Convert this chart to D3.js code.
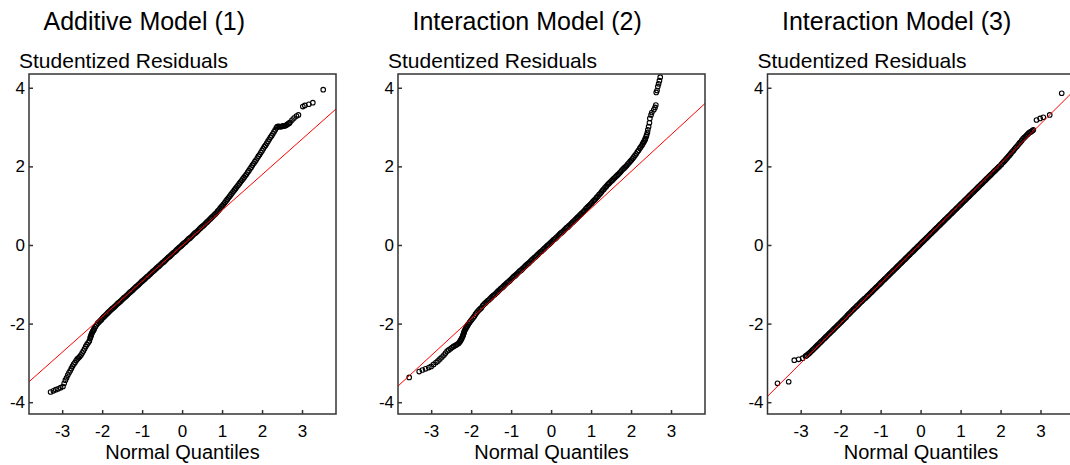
<!DOCTYPE html>
<html><head><meta charset="utf-8">
<script src="https://cdn.jsdelivr.net/npm/d3@7"></script>
<style>
body{margin:0;background:#fff;}
text{font-family:"Liberation Sans",Arial,sans-serif;fill:#000;}
</style>
</head><body>
<svg id="chart" width="1070" height="465"></svg>
<script>
// ---- labels & ticks ----
const panelTitles = ["Additive Model (1)", "Interaction Model (2)", "Interaction Model (3)"];
const yAxisTitle = "Studentized Residuals";
const xAxisTitle = "Normal Quantiles";
const xTicks = [-3, -2, -1, 0, 1, 2, 3];
const yTicks = [-4, -2, 0, 2, 4];
const xDomain = [-3.83, 3.85];
const yDomain = [-4.3, 4.35];

// ---- reference (QQ) lines: residual value at each end of xDomain ----
const refLine1 = [-3.48, 3.46];
const refLine2 = [-3.59, 3.60];
const refLine3 = [-3.85, 3.94];

// ---- Panel 1: Additive Model (1)  [normal quantile, studentized residual] ----
const points1 = [
[-3.29,-3.74],[-3.22,-3.71],[-3.16,-3.68],[-3.10,-3.66],[-3.04,-3.63],[-2.98,-3.60],[-2.95,-3.52],[-2.92,-3.44],[-2.89,-3.38],[-2.86,-3.31],
[-2.83,-3.25],[-2.80,-3.20],[-2.77,-3.14],[-2.74,-3.08],[-2.71,-3.03],[-2.68,-2.99],[-2.65,-2.94],[-2.62,-2.90],[-2.59,-2.87],[-2.56,-2.84],
[-2.53,-2.80],[-2.50,-2.75],[-2.47,-2.70],[-2.44,-2.64],[-2.41,-2.58],[-2.38,-2.53],[-2.35,-2.49],[-2.32,-2.44],[-2.30,-2.37],[-2.29,-2.34],
[-2.28,-2.31],[-2.27,-2.28],[-2.26,-2.25],[-2.24,-2.21],[-2.23,-2.19],[-2.21,-2.16],[-2.20,-2.13],[-2.17,-2.08],[-2.14,-2.03],[-2.11,-1.99],
[-2.08,-1.96],[-2.05,-1.93],[-2.02,-1.90],
[-1.99,-1.86],[-1.96,-1.83],[-1.93,-1.80],[-1.90,-1.77],[-1.87,-1.74],[-1.84,-1.71],[-1.81,-1.68],[-1.78,-1.65],[-1.75,-1.62],[-1.72,-1.60],
[-1.69,-1.57],[-1.66,-1.54],[-1.63,-1.51],[-1.60,-1.48],[-1.57,-1.46],[-1.54,-1.43],[-1.51,-1.40],[-1.48,-1.37],[-1.45,-1.34],[-1.42,-1.32],
[-1.39,-1.29],[-1.36,-1.26],[-1.33,-1.23],[-1.30,-1.20],[-1.27,-1.18],[-1.24,-1.15],[-1.21,-1.12],[-1.18,-1.09],[-1.15,-1.06],[-1.12,-1.04],
[-1.09,-1.01],[-1.06,-0.98],[-1.03,-0.95],[-1.00,-0.92],[-0.97,-0.90],[-0.94,-0.87],[-0.91,-0.84],[-0.88,-0.81],[-0.85,-0.79],[-0.82,-0.76],
[-0.79,-0.73],[-0.76,-0.70],[-0.73,-0.67],[-0.70,-0.65],[-0.67,-0.62],[-0.64,-0.59],[-0.61,-0.56],[-0.58,-0.54],[-0.55,-0.51],[-0.52,-0.48],
[-0.49,-0.45],[-0.46,-0.43],[-0.43,-0.40],[-0.40,-0.37],[-0.37,-0.34],[-0.34,-0.31],[-0.31,-0.29],[-0.28,-0.26],[-0.25,-0.23],[-0.22,-0.20],
[-0.19,-0.18],[-0.16,-0.15],[-0.13,-0.12],[-0.10,-0.09],[-0.07,-0.06],[-0.04,-0.04],[-0.01,-0.01],[0.02,0.02],[0.05,0.05],[0.08,0.07],
[0.11,0.10],[0.14,0.13],[0.17,0.16],[0.20,0.18],[0.23,0.21],[0.26,0.24],[0.29,0.27],[0.32,0.30],[0.35,0.32],[0.38,0.35],
[0.41,0.38],[0.44,0.41],[0.47,0.44],[0.50,0.47],[0.53,0.49],[0.56,0.52],[0.59,0.55],[0.62,0.58],[0.65,0.61],[0.68,0.64],
[0.71,0.67],[0.74,0.70],[0.77,0.73],[0.80,0.76],[0.83,0.79],[0.86,0.82],[0.89,0.86],[0.92,0.89],[0.95,0.93],[0.98,0.97],
[1.01,1.00],[1.04,1.04],[1.07,1.08],[1.10,1.12],[1.13,1.16],[1.16,1.20],[1.19,1.24],[1.22,1.28],[1.25,1.32],[1.28,1.36],
[1.31,1.40],[1.34,1.44],[1.37,1.48],[1.40,1.52],[1.43,1.56],[1.46,1.60],[1.49,1.64],[1.52,1.68],[1.55,1.72],[1.58,1.76],
[1.61,1.80],[1.64,1.85],[1.67,1.89],[1.70,1.94],[1.73,1.98],[1.76,2.03],[1.79,2.07],[1.82,2.12],[1.85,2.16],[1.88,2.21],
[1.91,2.26],[1.94,2.30],[1.97,2.35],[2.00,2.40],[2.03,2.45],[2.06,2.50],[2.09,2.54],[2.12,2.59],[2.15,2.64],[2.18,2.69],
[2.21,2.74],[2.24,2.78],[2.27,2.83],[2.30,2.88],[2.33,2.93],[2.36,2.98],[2.38,3.01],[2.41,3.02],[2.44,3.01],[2.47,3.01],
[2.50,3.02],[2.53,3.03],[2.56,3.03],[2.59,3.04],[2.62,3.06],[2.65,3.08],[2.68,3.10],[2.70,3.12],
[2.75,3.18],[2.80,3.23],[2.86,3.28],[2.91,3.31],[3.02,3.52],[3.07,3.55],[3.17,3.58],[3.27,3.62],[3.53,3.95]
];

// ---- Panel 2: Interaction Model (2) ----
const points2 = [
[-3.55,-3.37],[-3.30,-3.22],[-3.22,-3.18],[-3.14,-3.15],[-3.06,-3.12],[-3.00,-3.09],[-2.94,-3.04],[-2.88,-2.99],[-2.83,-2.95],[-2.78,-2.90],
[-2.73,-2.85],[-2.68,-2.80],[-2.64,-2.75],[-2.60,-2.70],[-2.56,-2.67],[-2.52,-2.64],[-2.48,-2.61],[-2.44,-2.58],[-2.40,-2.56],[-2.37,-2.54],
[-2.34,-2.52],[-2.31,-2.50],[-2.29,-2.47],[-2.27,-2.44],[-2.26,-2.42],[-2.24,-2.39],[-2.23,-2.36],[-2.21,-2.32],[-2.20,-2.29],[-2.19,-2.26],
[-2.18,-2.23],[-2.17,-2.20],[-2.16,-2.17],[-2.14,-2.14],[-2.13,-2.11],[-2.11,-2.08],[-2.10,-2.06],[-2.08,-2.03],[-2.07,-2.01],[-2.04,-1.97],
[-2.01,-1.93],[-1.98,-1.89],[-1.95,-1.85],[-1.92,-1.81],[-1.89,-1.76],[-1.86,-1.72],[-1.83,-1.68],[-1.80,-1.65],
[-1.77,-1.62],[-1.74,-1.59],[-1.71,-1.54],[-1.68,-1.51],[-1.65,-1.48],[-1.62,-1.45],[-1.59,-1.42],[-1.56,-1.40],[-1.53,-1.37],[-1.50,-1.34],
[-1.47,-1.31],[-1.44,-1.28],[-1.41,-1.26],[-1.38,-1.23],[-1.35,-1.20],[-1.32,-1.17],[-1.29,-1.14],[-1.26,-1.11],[-1.23,-1.09],[-1.20,-1.06],
[-1.17,-1.03],[-1.14,-1.00],[-1.11,-0.97],[-1.08,-0.95],[-1.05,-0.92],[-1.02,-0.89],[-0.99,-0.86],[-0.96,-0.83],[-0.93,-0.80],[-0.90,-0.78],
[-0.87,-0.75],[-0.84,-0.72],[-0.81,-0.69],[-0.78,-0.66],[-0.75,-0.64],[-0.72,-0.61],[-0.69,-0.58],[-0.66,-0.55],[-0.63,-0.52],[-0.60,-0.49],
[-0.57,-0.47],[-0.54,-0.44],[-0.51,-0.41],[-0.48,-0.38],[-0.45,-0.35],[-0.42,-0.32],[-0.39,-0.30],[-0.36,-0.27],[-0.33,-0.24],[-0.30,-0.21],
[-0.27,-0.18],[-0.24,-0.16],[-0.21,-0.13],[-0.18,-0.10],[-0.15,-0.07],[-0.12,-0.04],[-0.09,-0.01],[-0.06,0.01],[-0.03,0.04],[0.00,0.07],
[0.03,0.10],[0.06,0.13],[0.09,0.15],[0.12,0.18],[0.15,0.21],[0.18,0.24],[0.21,0.27],[0.24,0.30],[0.27,0.32],[0.30,0.35],
[0.33,0.38],[0.36,0.41],[0.39,0.44],[0.42,0.46],[0.45,0.49],[0.48,0.52],[0.51,0.55],[0.54,0.58],[0.57,0.61],[0.60,0.64],
[0.63,0.67],[0.66,0.70],[0.69,0.73],[0.72,0.76],[0.75,0.79],[0.78,0.82],[0.81,0.85],[0.84,0.88],[0.87,0.92],[0.90,0.95],
[0.93,0.98],[0.96,1.01],[0.99,1.04],[1.02,1.07],[1.05,1.11],[1.08,1.14],[1.11,1.17],[1.14,1.21],[1.17,1.24],[1.20,1.28],
[1.23,1.31],[1.26,1.35],[1.29,1.39],[1.32,1.42],[1.35,1.46],[1.38,1.49],[1.41,1.53],[1.44,1.56],[1.47,1.59],[1.50,1.62],
[1.53,1.65],[1.56,1.68],[1.59,1.71],[1.62,1.74],[1.65,1.77],[1.68,1.80],[1.71,1.83],[1.74,1.86],[1.77,1.90],[1.80,1.93],
[1.83,1.96],[1.86,1.99],[1.89,2.02],[1.92,2.06],[1.95,2.09],[1.98,2.13],[2.01,2.16],[2.04,2.20],[2.07,2.24],[2.10,2.28],
[2.13,2.32],[2.16,2.37],[2.19,2.41],[2.22,2.46],[2.24,2.49],
[2.27,2.53],[2.29,2.57],[2.31,2.61],[2.33,2.64],[2.35,2.68],[2.36,2.71],[2.38,2.76],[2.39,2.80],[2.41,2.86],[2.42,2.93],
[2.44,3.01],[2.46,3.11],[2.47,3.22],[2.50,3.31],[2.52,3.37],[2.57,3.44],[2.60,3.50],[2.62,3.56],
[2.63,3.88],[2.65,3.93],[2.67,4.03],[2.69,4.10],[2.71,4.18],[2.73,4.27]
];

// ---- Panel 3: Interaction Model (3) ----
const points3 = [
[-3.58,-3.52],[-3.30,-3.48],[-3.16,-2.93],[-3.05,-2.91],[-2.95,-2.88],[-2.88,-2.83],
[-2.85,-2.81],[-2.82,-2.78],[-2.79,-2.76],[-2.76,-2.73],[-2.73,-2.70],[-2.70,-2.67],[-2.67,-2.64],[-2.64,-2.61],[-2.61,-2.58],[-2.58,-2.55],
[-2.55,-2.52],[-2.52,-2.49],[-2.49,-2.46],[-2.46,-2.43],[-2.43,-2.40],[-2.40,-2.37],[-2.37,-2.34],[-2.34,-2.31],[-2.31,-2.28],[-2.28,-2.25],
[-2.25,-2.22],[-2.22,-2.19],[-2.19,-2.16],[-2.16,-2.13],[-2.13,-2.10],[-2.10,-2.07],[-2.07,-2.04],[-2.04,-2.01],[-2.01,-1.98],[-1.98,-1.95],
[-1.95,-1.92],[-1.92,-1.89],[-1.89,-1.86],[-1.86,-1.83],[-1.83,-1.79],[-1.80,-1.76],[-1.77,-1.73],[-1.74,-1.70],[-1.71,-1.67],[-1.68,-1.64],
[-1.65,-1.61],[-1.62,-1.58],[-1.59,-1.55],[-1.56,-1.52],[-1.53,-1.49],[-1.50,-1.46],[-1.47,-1.43],[-1.44,-1.40],[-1.41,-1.37],[-1.38,-1.35],
[-1.35,-1.32],[-1.32,-1.29],[-1.29,-1.26],[-1.26,-1.23],[-1.23,-1.20],[-1.20,-1.17],[-1.17,-1.14],[-1.14,-1.11],[-1.11,-1.08],[-1.08,-1.05],
[-1.05,-1.02],[-1.02,-0.99],[-0.99,-0.96],[-0.96,-0.93],[-0.93,-0.90],[-0.90,-0.87],[-0.87,-0.84],[-0.84,-0.81],[-0.81,-0.78],[-0.78,-0.75],
[-0.75,-0.72],[-0.72,-0.69],[-0.69,-0.66],[-0.66,-0.63],[-0.63,-0.60],[-0.60,-0.57],[-0.57,-0.54],[-0.54,-0.51],[-0.51,-0.48],[-0.48,-0.45],
[-0.45,-0.42],[-0.42,-0.39],[-0.39,-0.36],[-0.36,-0.33],[-0.33,-0.30],[-0.30,-0.27],[-0.27,-0.24],[-0.24,-0.21],[-0.21,-0.18],[-0.18,-0.15],
[-0.15,-0.12],[-0.12,-0.09],[-0.09,-0.06],[-0.06,-0.03],[-0.03,0.00],[0.00,0.03],[0.03,0.06],[0.06,0.09],[0.09,0.12],[0.12,0.15],
[0.15,0.18],[0.18,0.21],[0.21,0.24],[0.24,0.27],[0.27,0.30],[0.30,0.33],[0.33,0.36],[0.36,0.39],[0.39,0.42],[0.42,0.45],
[0.45,0.48],[0.48,0.51],[0.51,0.54],[0.54,0.57],[0.57,0.60],[0.60,0.63],[0.63,0.66],[0.66,0.69],[0.69,0.72],[0.72,0.75],
[0.75,0.78],[0.78,0.81],[0.81,0.84],[0.84,0.87],[0.87,0.90],[0.90,0.93],[0.93,0.96],[0.96,0.99],[0.99,1.02],[1.02,1.05],
[1.05,1.08],[1.08,1.11],[1.11,1.14],[1.14,1.17],[1.17,1.20],[1.20,1.23],[1.23,1.26],[1.26,1.29],[1.29,1.32],[1.32,1.35],
[1.35,1.38],[1.38,1.41],[1.41,1.44],[1.44,1.47],[1.47,1.50],[1.50,1.53],[1.53,1.56],[1.56,1.59],[1.59,1.62],[1.62,1.65],
[1.65,1.68],[1.68,1.71],[1.71,1.74],[1.74,1.77],[1.77,1.80],[1.80,1.83],[1.83,1.86],[1.86,1.89],[1.89,1.92],[1.92,1.95],
[1.95,1.98],[1.98,2.01],[2.02,2.05],[2.05,2.09],[2.08,2.12],[2.11,2.15],[2.14,2.19],[2.17,2.22],[2.20,2.26],[2.23,2.29],
[2.26,2.33],[2.29,2.37],[2.32,2.40],[2.35,2.44],[2.38,2.48],[2.41,2.51],[2.44,2.55],[2.47,2.59],[2.50,2.62],[2.53,2.66],
[2.56,2.70],[2.59,2.73],[2.62,2.76],[2.65,2.79],[2.68,2.82],[2.71,2.85],[2.74,2.87],[2.77,2.89],[2.80,2.91],[2.82,2.93],
[2.90,3.18],[2.99,3.22],[3.07,3.25],[3.23,3.31],[3.53,3.86]
];

const panels = [
  {title: panelTitles[0], pts: points1, line: refLine1},
  {title: panelTitles[1], pts: points2, line: refLine2},
  {title: panelTitles[2], pts: points3, line: refLine3}
];

// ---- layout ----
const svg = d3.select("#chart");
const W = 307, H = 340, TOP = 74;
const lefts = [29, 398, 767.5];

const x = d3.scaleLinear().domain(xDomain).range([0, W]);
const y = d3.scaleLinear().domain(yDomain).range([H, 0]);

panels.forEach((p, i) => {
  const g = svg.append("g").attr("transform", `translate(${lefts[i]},${TOP})`);
  const clipId = "clip" + i;
  g.append("clipPath").attr("id", clipId)
    .append("rect").attr("width", W).attr("height", H);

  const plot = g.append("g").attr("clip-path", `url(#${clipId})`);
  plot.selectAll("circle").data(p.pts).join("circle")
    .attr("cx", d => x(d[0])).attr("cy", d => y(d[1]))
    .attr("r", 2.3).attr("fill", "none")
    .attr("stroke", "#000").attr("stroke-width", 1.1);

  plot.append("line")
    .attr("x1", x(xDomain[0])).attr("y1", y(p.line[0]))
    .attr("x2", x(xDomain[1])).attr("y2", y(p.line[1]))
    .attr("stroke", "#ff0000").attr("stroke-width", 1);

  const xa = d3.axisBottom(x).tickValues(xTicks).tickSize(-4).tickPadding(11).tickFormat(d => String(d));
  const ya = d3.axisLeft(y).tickValues(yTicks).tickSize(-4).tickPadding(4).tickFormat(d => String(d));

  const gx = g.append("g").attr("transform", `translate(0,${H})`).call(xa);
  const gy = g.append("g").call(ya);
  [gx, gy].forEach(a => {
    a.select(".domain").remove();
    a.selectAll(".tick line").attr("stroke", "#333").attr("stroke-width", 1.5);
    a.selectAll(".tick text").attr("font-size", 17).attr("fill", "#000")
      .style("font-family", '"Liberation Sans", Arial, sans-serif');
  });

  g.append("rect").attr("width", W).attr("height", H)
    .attr("fill", "none").attr("stroke", "#333").attr("stroke-width", 1.5);

  svg.append("text").attr("x", lefts[i] + 14.5).attr("y", 30)
    .attr("font-size", 25).text(p.title);
  svg.append("text").attr("x", lefts[i] - 10).attr("y", 68)
    .attr("font-size", 21).text(yAxisTitle);
  svg.append("text").attr("x", lefts[i] + W / 2).attr("y", 459)
    .attr("text-anchor", "middle").attr("font-size", 20).text(xAxisTitle);
});
</script>
</body></html>
